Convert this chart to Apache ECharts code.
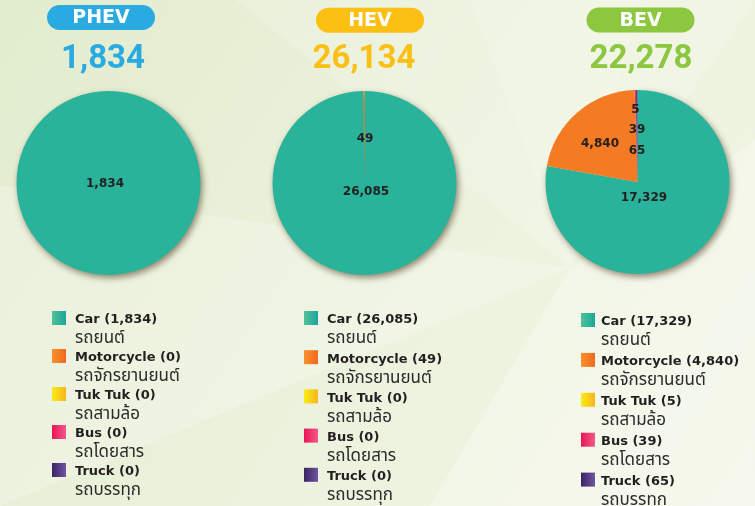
<!DOCTYPE html>
<html><head><meta charset="utf-8">
<script src="https://cdn.jsdelivr.net/npm/echarts@6/dist/echarts.min.js"></script>
<style>html,body{margin:0;padding:0;background:#eef3e0}#c{width:755px;height:506px}</style>
</head><body><div id="c"></div>
<script>
// ---- data ----
const groups = ['PHEV', 'HEV', 'BEV'];
const categories = ['Car', 'Motorcycle', 'Tuk Tuk', 'Bus', 'Truck'];
const thaiNames = ['รถยนต์', 'รถจักรยานยนต์', 'รถสามล้อ', 'รถโดยสาร', 'รถบรรทุก'];
const phevValues = [1834, 0, 0, 0, 0];
const hevValues = [26085, 49, 0, 0, 0];
const bevValues = [17329, 4840, 5, 39, 65];
const groupValues = [phevValues, hevValues, bevValues];

// ---- styling ----
const headerColors = ['#29abe2', '#fcbf14', '#8dc63f'];
const sliceColors = ['#28b39a', '#f47a23', '#f7d21a', '#ee2060', '#5a3b8c'];
const iconGradients = [
  ['#52c09a', '#1aa79b'], ['#f7922c', '#f26822'], ['#f9ec17', '#f8b51c'],
  ['#eb1555', '#f05a8c'], ['#3a2462', '#7055a2']
];
const pieCenters = [[108.5, 183], [364.5, 183], [637.5, 182]];
const pieRadius = 92;
const headerPos = [[101, 17.5], [370, 20.2], [640.5, 20]];
const numberPos = [[103, 60], [364, 60], [641, 60]];
const labelOffsets = [
  [[-3.5, 1]],
  [[1.5, 9], [0.5, -44]],
  [[6.5, 16], [-37.5, -38], [-2, -72], [-0.5, -52], [-0.5, -31]]
];
const legendPos = [
  { left: 52, top: 311, gap: 0.5, padLeft: 4 },
  { left: 304, top: 311, gap: 1.7, padLeft: 4 },
  { left: 581, top: 313, gap: 2.4, padLeft: 1 }
];
const thaiFont = "'Noto Sans Thai','Noto Sans Thai UI','Loma','Garuda','Tlwg Typo','Norasi',sans-serif";
const fmt = v => v.toLocaleString('en-US');

const chart = echarts.init(document.getElementById('c'), null, { renderer: 'canvas' });

const graphics = [
  { type: 'polygon', z: -10, silent: true, shape: { points: [[235, 0], [570, 268], [755, 0]] }, style: { fill: 'rgba(255,255,255,0.16)' } },
  { type: 'polygon', z: -10, silent: true, shape: { points: [[0, 185], [570, 268], [0, 506]] }, style: { fill: 'rgba(255,255,255,0.22)' } },
  { type: 'polygon', z: -10, silent: true, shape: { points: [[570, 268], [755, 140], [755, 506], [430, 506]] }, style: { fill: 'rgba(255,255,255,0.25)' } },
  { type: 'polygon', z: -10, silent: true, shape: { points: [[470, 0], [570, 268], [640, 0]] }, style: { fill: 'rgba(255,255,255,0.12)' } }
];
groups.forEach((g, i) => {
  const total = groupValues[i].reduce((a, b) => a + b, 0);
  graphics.push({
    type: 'group', x: headerPos[i][0], y: headerPos[i][1], silent: true,
    children: [
      { type: 'rect', shape: { x: -54, y: -12.5, width: 108, height: 25, r: 12.5 }, style: { fill: headerColors[i] } },
      { type: 'text', style: { text: g, x: 0, y: 1, align: 'center', verticalAlign: 'middle', fill: '#ffffff', font: "bold 19px 'DejaVu Sans'" } }
    ]
  });
  graphics.push({
    type: 'text', silent: true, x: numberPos[i][0], y: numberPos[i][1],
    style: { text: fmt(total), align: 'center', verticalAlign: 'middle', fill: headerColors[i], font: "bold 33px Roboto" }
  });
});

const series = groups.map((g, i) => ({
  type: 'pie',
  name: g,
  center: pieCenters[i],
  radius: pieRadius,
  startAngle: 90,
  clockwise: true,
  avoidLabelOverlap: false,
  silent: true,
  emphasis: { disabled: true },
  itemStyle: { borderWidth: 0 },
  label: {
    show: true, position: 'inside', color: '#231f20',
    fontFamily: 'DejaVu Sans', fontWeight: 'bold', fontSize: 12,
    formatter: p => (p.value > 0 ? fmt(p.value) : '')
  },
  labelLine: { show: false },
  labelLayout: p => {
    const o = labelOffsets[i][p.dataIndex];
    if (!o) return {};
    return { x: pieCenters[i][0] + o[0], y: pieCenters[i][1] + o[1], align: 'center', verticalAlign: 'middle' };
  },
  data: categories.map((c, k) => ({
    name: c,
    value: groupValues[i][k],
    itemStyle: k === 0
      ? { color: sliceColors[k], shadowBlur: 6, shadowOffsetX: 2, shadowOffsetY: 3, shadowColor: 'rgba(70,45,20,0.55)' }
      : { color: sliceColors[k] }
  }))
}));

const legends = groups.map((g, i) => ({
  orient: 'vertical',
  left: legendPos[i].left,
  top: legendPos[i].top,
  height: 400,
  padding: 0,
  itemGap: legendPos[i].gap,
  itemWidth: 14,
  itemHeight: 14,
  selectedMode: false,
  icon: 'rect',
  data: categories.map((c, k) => ({
    name: c,
    itemStyle: {
      color: new echarts.graphic.LinearGradient(0, 0, 1, 0, [
        { offset: 0, color: iconGradients[k][0] }, { offset: 1, color: iconGradients[k][1] }
      ])
    }
  })),
  formatter: name => {
    const k = categories.indexOf(name);
    return '{a|' + name + ' (' + fmt(groupValues[i][k]) + ')}\n{b|' + thaiNames[k] + '}';
  },
  textStyle: {
    padding: [24, 0, 0, legendPos[i].padLeft],
    rich: {
      a: { fontFamily: 'DejaVu Sans', fontWeight: 'bold', fontSize: 13, lineHeight: 20, color: '#231f20' },
      b: { fontFamily: thaiFont, fontSize: 17, lineHeight: 20, color: '#2b2b2b' }
    }
  }
}));

chart.setOption({
  animation: false,
  backgroundColor: new echarts.graphic.LinearGradient(0, 0, 1, 1, [
    { offset: 0, color: '#e2ecce' }, { offset: 0.5, color: '#ebf2dc' }, { offset: 1, color: '#f3f6e7' }
  ]),
  graphic: graphics,
  legend: legends,
  series: series
});
</script>
</body></html>
